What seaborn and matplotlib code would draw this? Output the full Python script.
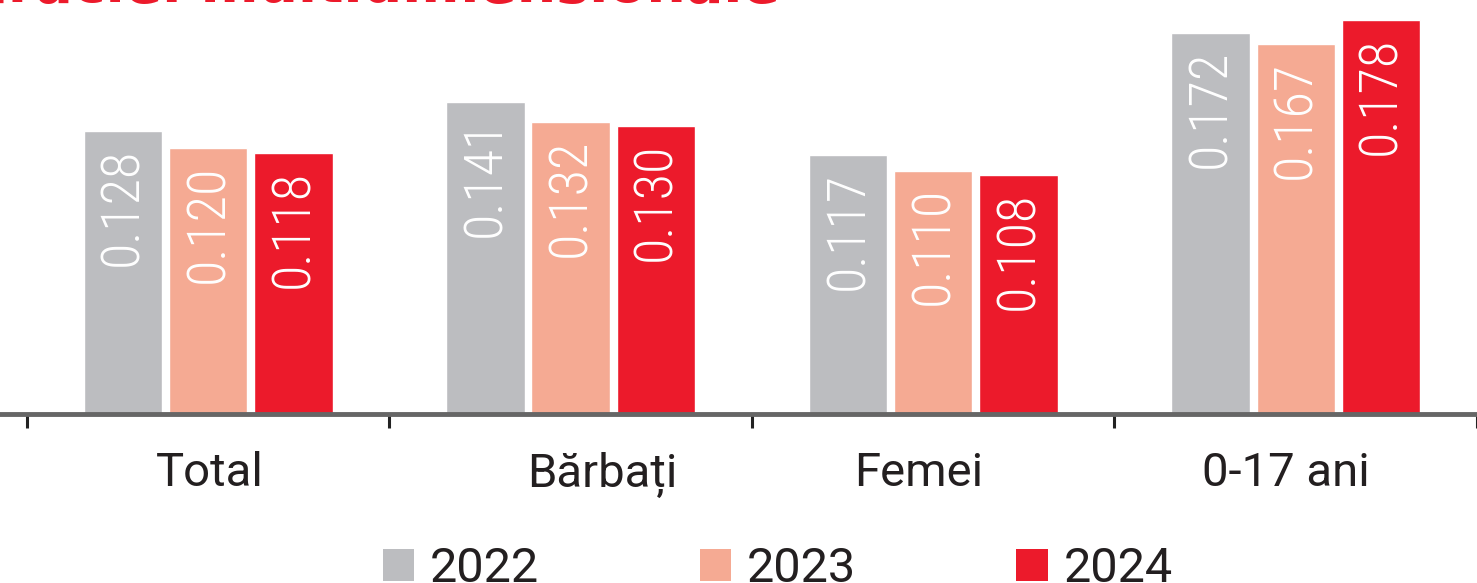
import pandas as pd
import numpy as np
import matplotlib
matplotlib.use('Agg')
import matplotlib.pyplot as plt
import matplotlib.patches as mpatches
import matplotlib.transforms as mtransforms
import seaborn as sns

# data
categories = ['Total', 'Bărbați', 'Femei', '0-17 ani']
years = ['2022', '2023', '2024']
values_2022 = [0.128, 0.141, 0.117, 0.172]
values_2023 = [0.120, 0.132, 0.110, 0.167]
values_2024 = [0.118, 0.130, 0.108, 0.178]
title_text = 'Indicele sărăciei multidimensionale'

colors = ['#BCBDC0', '#F5AA93', '#EC1A2B']
dark = '#231F20'

df = pd.DataFrame({
    'categorie': categories * 3,
    'an': [y for y in years for _ in categories],
    'valoare': values_2022 + values_2023 + values_2024,
})

sns.set_style('white')
plt.rcParams['font.family'] = ['Roboto', 'DejaVu Sans']

W, H = 1477, 583
fig = plt.figure(figsize=(W / 100, H / 100), dpi=100)
ax = fig.add_axes([0, 1 - 414 / H, 1, 414 / H])

sns.barplot(data=df, x='categorie', y='valoare', hue='an', order=categories,
            hue_order=years, palette=colors, width=0.705, gap=0.08,
            edgecolor='white', linewidth=1.0, saturation=1, legend=False, ax=ax)

ax.set_xlim(-0.5 - 27 / 364, -0.5 + (1477 - 27) / 364)
ax.set_ylim(0, 414 / 2213)

# value labels, white, rotated inside the bars
for cont in ax.containers:
    for bar in cont:
        h = bar.get_height()
        xc = bar.get_x() + bar.get_width() / 2
        ax.annotate(f'{h:.3f}', (xc, h), xytext=(0, -12), textcoords='offset points',
                    rotation=90, ha='center', va='top', color='white',
                    fontsize=39, fontweight='light',
                    family=['Roboto Condensed', 'DejaVu Sans'])

for s in ['top', 'right', 'left']:
    ax.spines[s].set_visible(False)
ax.spines['bottom'].set_color('#666666')
ax.spines['bottom'].set_linewidth(3.5)
ax.set_yticks([])
ax.set_xlabel('')
ax.set_ylabel('')

# boundary ticks between categories, labels in each category
ax.set_xticks(np.arange(-0.5, len(categories), 1.0))
ax.set_xticklabels([])
ax.set_xticks(np.arange(len(categories)), minor=True)
ax.set_xticklabels(categories, minor=True, fontsize=34, color=dark)
ax.tick_params(axis='x', which='major', direction='out', length=10, width=2.2,
               color='#222222', bottom=True)
ax.tick_params(axis='x', which='minor', length=0, pad=27, bottom=True)

# the labels in the original are not exactly centred
shifts = [2, 32, -15, -10]
for lab, dx in zip(ax.get_xticklabels(minor=True), shifts):
    lab.set_transform(lab.get_transform() +
                      mtransforms.ScaledTranslation(dx / 100, 0, fig.dpi_scale_trans))

# title mostly clipped at the top of the image
fig.text(780 / W, 1 - 2 / H, title_text, color='#EC1A2B', fontsize=40,
         fontweight='bold', ha='right', va='baseline', family=['DejaVu Sans'])

handles = [mpatches.Patch(facecolor=c, edgecolor='none', label=y)
           for c, y in zip(colors, years)]
fig.legend(handles=handles, loc='lower left', bbox_to_anchor=(383 / W, 1 - 592 / H),
           ncol=3, frameon=False, handlelength=0.64, handleheight=0.62,
           handletextpad=0.33, columnspacing=3.3, borderpad=0, borderaxespad=0,
           prop={'size': 35}, labelcolor=dark)

fig.savefig('out.png', dpi=100)
